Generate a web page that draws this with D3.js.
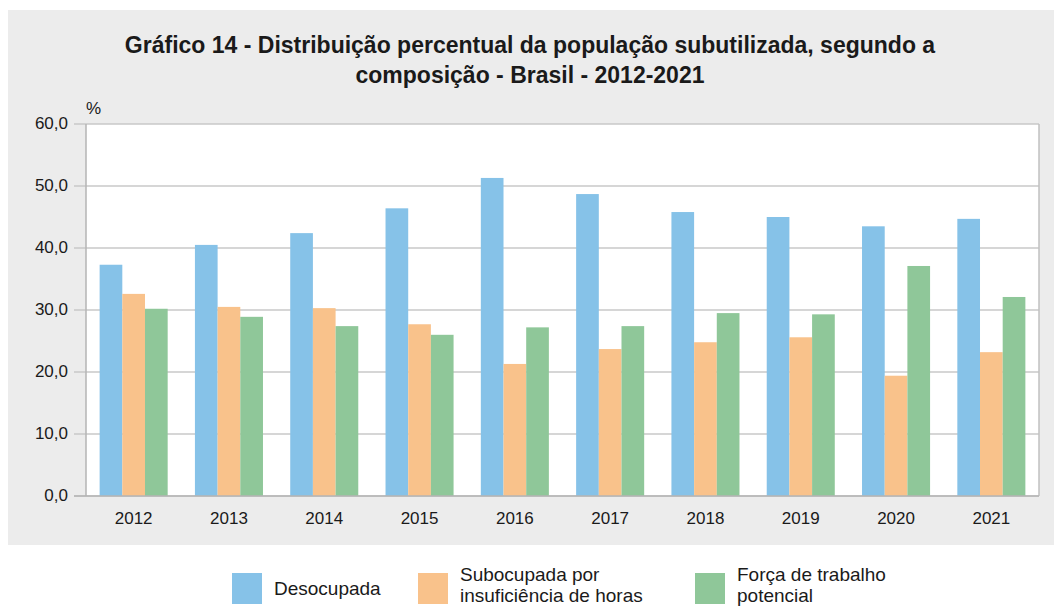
<!DOCTYPE html>
<html>
<head>
<meta charset="utf-8">
<script src="https://cdn.jsdelivr.net/npm/d3@7"></script>
<style>
  body { margin: 0; background: #fff; }
  text { font-family: "Liberation Sans", Arial, sans-serif; fill: #1a1a1a; }
</style>
</head>
<body>
<div id="chart"></div>
<script>
// dados
const anos = ["2012", "2013", "2014", "2015", "2016", "2017", "2018", "2019", "2020", "2021"];
const desocupada = [37.3, 40.5, 42.4, 46.4, 51.3, 48.7, 45.8, 45.0, 43.5, 44.7];
const subocupada = [32.6, 30.5, 30.3, 27.7, 21.3, 23.7, 24.8, 25.6, 19.4, 23.2];
const forcaPotencial = [30.2, 28.9, 27.4, 26.0, 27.2, 27.4, 29.5, 29.3, 37.1, 32.1];
const series = ["Desocupada", "Subocupada por insuficiência de horas", "Força de trabalho potencial"];
const yTicks = [0, 10, 20, 30, 40, 50, 60];

const cores = ["#86C2E8", "#F9C28B", "#8FC799"];

var width = 1054, height = 607;
var margin = { left: 86, right: 1039, top: 124, bottom: 496 };

var svg = d3.select("#chart").append("svg")
  .attr("width", width)
  .attr("height", height);

// painel cinza
svg.append("rect")
  .attr("x", 8).attr("y", 10)
  .attr("width", width - 8).attr("height", 535)
  .attr("fill", "#ECECEC");

// título
var titulo = ["Gráfico 14 - Distribuição percentual da população subutilizada, segundo a",
              "composição - Brasil - 2012-2021"];
svg.selectAll(".titulo").data(titulo).enter().append("text")
  .attr("x", 530)
  .attr("y", (d, i) => 53 + i * 30)
  .attr("text-anchor", "middle")
  .style("font-size", "23px")
  .style("font-weight", "bold")
  .text(d => d);

// área do gráfico
svg.append("rect")
  .attr("x", margin.left).attr("y", margin.top)
  .attr("width", margin.right - margin.left).attr("height", margin.bottom - margin.top)
  .attr("fill", "#fff");

var x0 = d3.scaleBand().domain(anos).range([margin.left, margin.right]).paddingInner(0.286).paddingOuter(0.143);
var x1 = d3.scaleBand().domain(d3.range(3)).range([0, x0.bandwidth()]);
var y = d3.scaleLinear().domain([0, 60]).range([margin.bottom, margin.top]);

// grade
svg.selectAll(".grid").data(yTicks).enter().append("line")
  .attr("x1", margin.left - 12).attr("x2", margin.right)
  .attr("y1", d => y(d)).attr("y2", d => y(d))
  .attr("stroke", "#C8C8C8").attr("stroke-width", 1.5);

// eixos laterais
svg.append("line")
  .attr("x1", margin.left).attr("x2", margin.left)
  .attr("y1", margin.top).attr("y2", margin.bottom)
  .attr("stroke", "#B4B4B4").attr("stroke-width", 1.5);
svg.append("line")
  .attr("x1", margin.right).attr("x2", margin.right)
  .attr("y1", margin.top).attr("y2", margin.bottom)
  .attr("stroke", "#C0C0C0").attr("stroke-width", 1.5);

// barras
var valores = [desocupada, subocupada, forcaPotencial];
var grupos = svg.selectAll(".grupo").data(anos).enter().append("g")
  .attr("transform", d => "translate(" + x0(d) + ",0)");
grupos.selectAll("rect")
  .data((d, i) => valores.map((s, k) => ({ k: k, v: s[i] })))
  .enter().append("rect")
  .attr("x", d => x1(d.k))
  .attr("width", x1.bandwidth())
  .attr("y", d => y(d.v))
  .attr("height", d => y(0) - y(d.v))
  .attr("fill", d => cores[d.k]);

// linha base
svg.append("line")
  .attr("x1", margin.left - 12).attr("x2", margin.right)
  .attr("y1", y(0)).attr("y2", y(0))
  .attr("stroke", "#B4B4B4").attr("stroke-width", 1.5);

// rótulos eixo y
svg.selectAll(".ytick").data(yTicks).enter().append("text")
  .attr("x", 68)
  .attr("y", d => y(d) + 5)
  .attr("text-anchor", "end")
  .style("font-size", "17px")
  .text(d => d3.format(".1f")(d).replace(".", ","));

svg.append("text")
  .attr("x", 86).attr("y", 114)
  .style("font-size", "17px")
  .text("%");

// rótulos eixo x
svg.selectAll(".xtick").data(anos).enter().append("text")
  .attr("x", d => x0(d) + x0.bandwidth() / 2)
  .attr("y", 524)
  .attr("text-anchor", "middle")
  .style("font-size", "17px")
  .text(d => d);

// legenda
var legenda = [
  { x: 232, linhas: ["Desocupada"] },
  { x: 418, linhas: ["Subocupada por", "insuficiência de horas"] },
  { x: 695, linhas: ["Força de trabalho", "potencial"] }
];
legenda.forEach((l, i) => {
  svg.append("rect")
    .attr("x", l.x).attr("y", 573)
    .attr("width", 30).attr("height", 31)
    .attr("fill", cores[i]);
  var t = svg.append("text")
    .attr("x", l.x + 42)
    .style("font-size", "19px");
  if (l.linhas.length === 1) {
    t.attr("y", 595).text(l.linhas[0]);
  } else {
    l.linhas.forEach((s, j) => {
      t.append("tspan").attr("x", l.x + 42).attr("y", 581 + j * 21).text(s);
    });
  }
});
</script>
</body>
</html>
